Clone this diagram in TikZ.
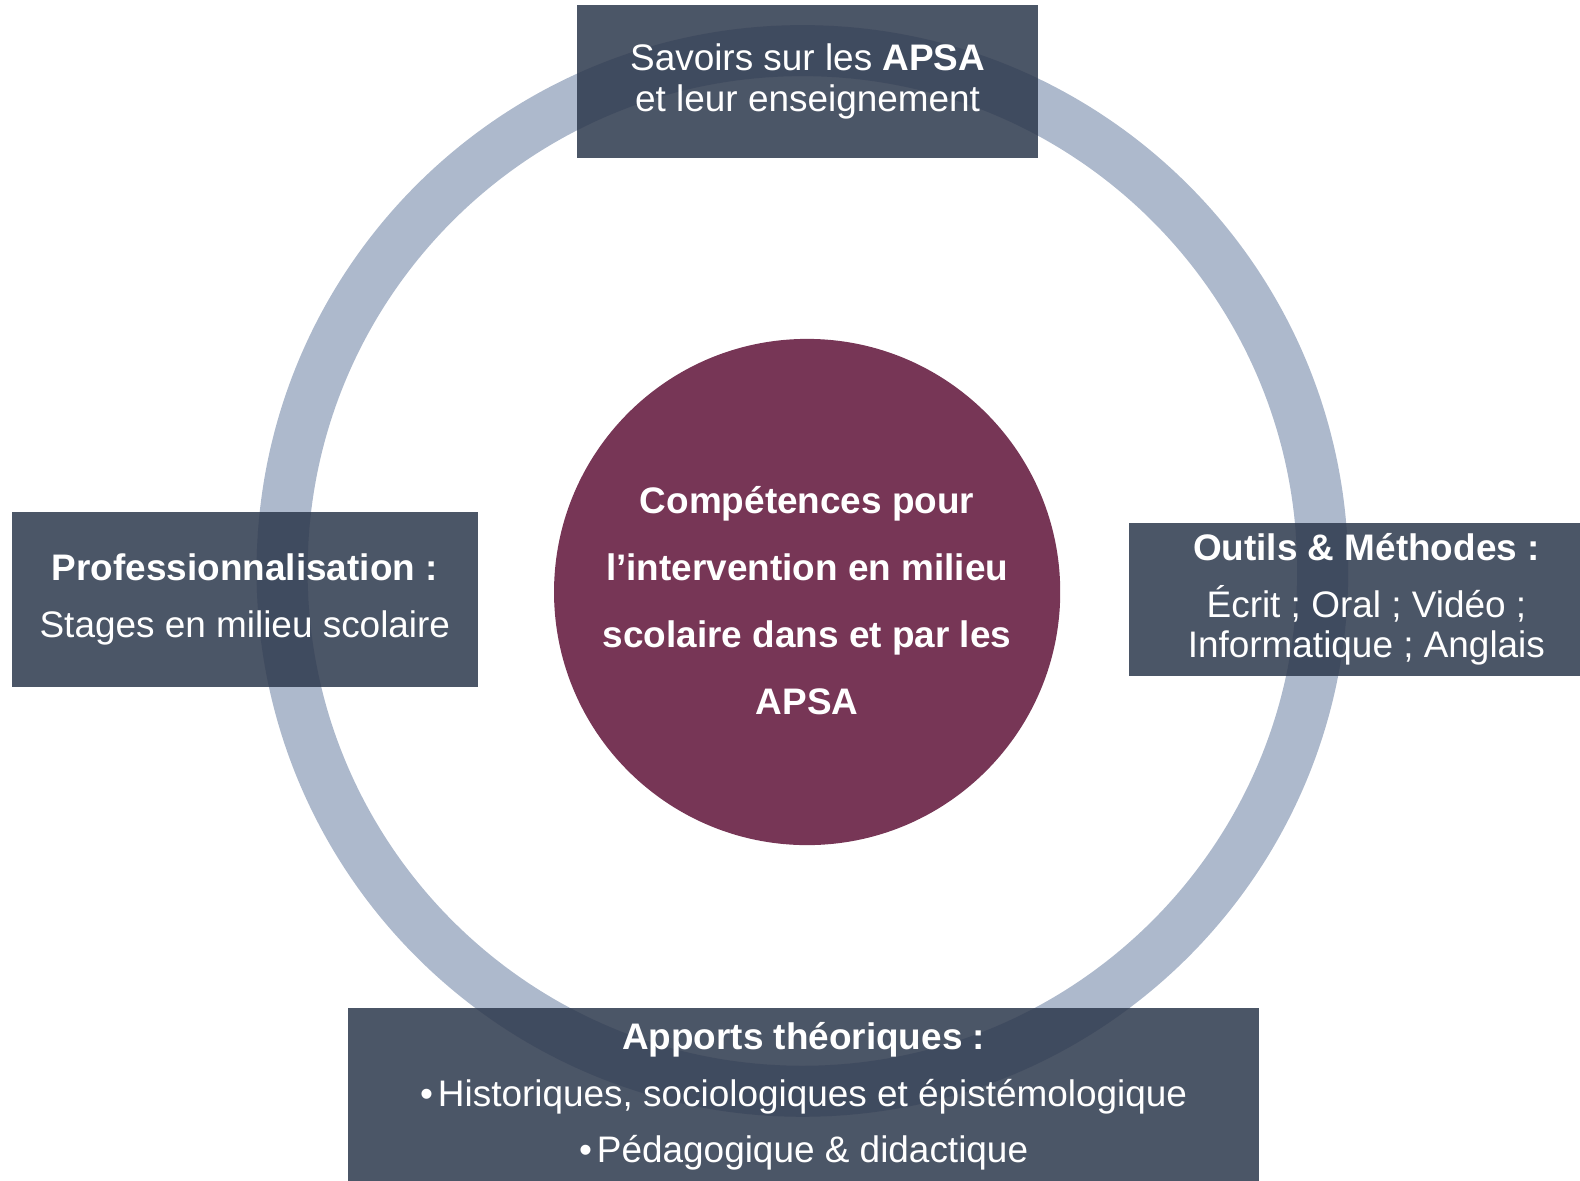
\documentclass[tikz,border=0pt]{standalone}
\usepackage{fontspec}
\setmainfont{Liberation Sans}
\usepackage{tikz}
\definecolor{ringblue}{HTML}{ADB9CC}
\definecolor{boxslate}{HTML}{2C384C}
\definecolor{coreplum}{HTML}{773656}

\begin{document}
\begin{tikzpicture}[x=0.010077cm, y=-0.010077cm]
    \tikzstyle{panel}=[rectangle, fill=boxslate, fill opacity=0.85, text opacity=1, text=white, align=center, inner sep=0pt]
    \tikzstyle{core}=[circle, fill=coreplum, minimum size=5.059cm, inner sep=0pt]
    \tikzstyle{coretext}=[text=white, align=center, font=\bfseries\fontsize{10.5}{19.0}\selectfont]
    \tikzstyle{tight}=[font=\fontsize{10.5}{11.5}\selectfont]
    \tikzstyle{loose}=[font=\fontsize{10.5}{16.0}\selectfont]
    \useasboundingbox (0,0) rectangle (1568,1172);

    % the ring behind everything
    \node[circle, draw=ringblue, line width=0.51cm, minimum size=10.40cm, inner sep=0pt] (ring) at (796.3,566.6) {};

    % centre
    \node[core] (core) at (801,587.5) {};
    \node[coretext, yshift=-0.086cm] (coretxt) at (core.center) {Compétences pour\\l’intervention en milieu\\scolaire dans et par les\\APSA};

    % the four panels round the ring
    \node[panel, tight, minimum width=4.605cm, minimum height=1.532cm] (savoirs) at (801.5,81) {Savoirs sur les \textbf{APSA}\\et leur enseignement};
    \node[panel, loose, minimum width=4.656cm, minimum height=1.753cm] (pro) at (243,595) {\textbf{Professionnalisation :}\\Stages en milieu scolaire};
    \node[panel, tight, minimum width=4.736cm, minimum height=1.532cm] (outils) at (1356,595) {\textbf{Outils \& Méthodes :}\\[4.5pt]Écrit ; Oral ; Vidéo ;\\Informatique ; Anglais};
    \node[panel, loose, minimum width=9.100cm, minimum height=1.774cm] (apports) at (797.5,1088) {\textbf{Apports théoriques :}\\\textbullet\hspace{0.05cm}Historiques, sociologiques et épistémologique\\\textbullet\hspace{0.05cm}Pédagogique \& didactique};
\end{tikzpicture}
\end{document}
